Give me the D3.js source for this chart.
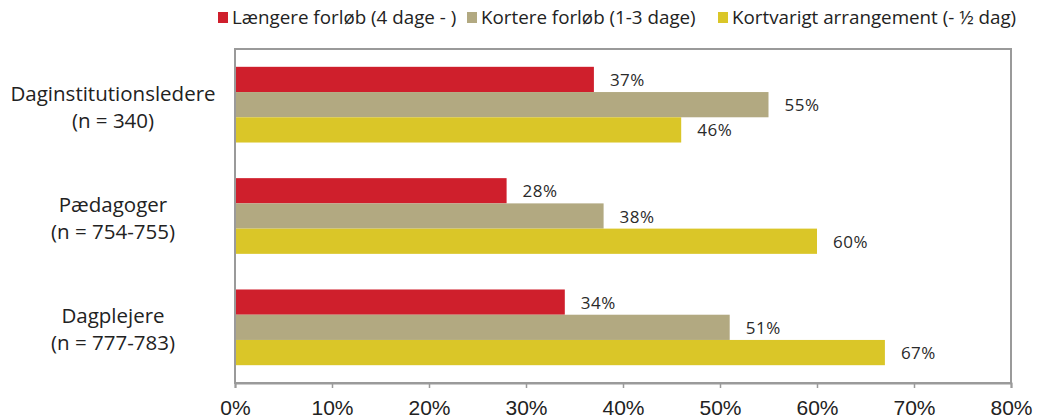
<!DOCTYPE html>
<html><head><meta charset="utf-8">
<script src="https://cdn.jsdelivr.net/npm/d3@7"></script>
<style>body{margin:0;background:#fff}svg{display:block}</style>
</head><body><svg id="c" width="1037" height="419"></svg>
<script>
const categories = ["Daginstitutionsledere|(n = 340)", "Pædagoger|(n = 754-755)", "Dagplejere|(n = 777-783)"];
const seriesNames = ["Længere forløb (4 dage - )", "Kortere forløb (1-3 dage)", "Kortvarigt arrangement (- ½ dag)"];
const longer = [37, 28, 34];
const shorter = [55, 38, 51];
const brief = [46, 60, 67];
const tickValues = [0, 10, 20, 30, 40, 50, 60, 70, 80];
const colors = ["#CF1F2C", "#B2A981", "#DAC628"];

const series = [longer, shorter, brief];
const svg = d3.select("#c");
const m = {l: 235, r: 1011, t: 49, b: 383};
const x = d3.scaleLinear().domain([0, 80]).range([m.l, m.r]);
const y = d3.scaleBand().domain(categories).range([m.t, m.b]).paddingInner(0.32).paddingOuter(0.16);
const ys = d3.scaleBand().domain([0,1,2]).range([0, y.bandwidth()]);

// frame
svg.append("rect").attr("x", m.l).attr("y", m.t).attr("width", m.r - m.l).attr("height", m.b - m.t)
  .attr("fill", "none").attr("stroke", "#9a9a9a").attr("stroke-width", 2);

// bars
categories.forEach((c, i) => {
  series.forEach((s, j) => {
    svg.append("rect").attr("x", x(0)).attr("y", y(c) + ys(j))
      .attr("width", x(s[i]) - x(0)).attr("height", ys.bandwidth())
      .attr("fill", colors[j]);
    svg.append("text").attr("x", x(s[i]) + 16).attr("y", y(c) + ys(j) + ys.bandwidth()/2 + 6.5)
      .attr("font-family", "Open Sans, sans-serif").attr("font-size", 17).attr("fill", "#2a2a2a")
      .attr("letter-spacing", 0.5)
      .text(s[i] + "%");
  });
  const parts = c.split("|");
  const t = svg.append("text").attr("text-anchor", "middle").attr("font-family", "Open Sans, sans-serif")
    .attr("font-size", 20.5).attr("fill", "#222");
  const cy = y(c) + y.bandwidth()/2;
  t.append("tspan").attr("x", 113).attr("y", cy - 4).text(parts[0]);
  t.append("tspan").attr("x", 113).attr("y", cy + 23).text(parts[1]);
});

// left axis line redraw over bars
svg.append("line").attr("x1", m.l).attr("x2", m.l).attr("y1", m.t).attr("y2", m.b).attr("stroke", "#9a9a9a").attr("stroke-width", 2);

// x axis
const ax = svg.append("g").attr("transform", `translate(0,${m.b})`)
  .call(d3.axisBottom(x).tickValues(tickValues).tickFormat(d => d + "%").tickSize(5).tickPadding(12));
ax.select(".domain").attr("stroke", "#9a9a9a").attr("stroke-width", 2);
ax.selectAll(".tick line").attr("stroke", "#9a9a9a").attr("stroke-width", 1.5);
ax.selectAll(".tick text").attr("font-family", "Liberation Sans Narrow, Arial Narrow, sans-serif")
  .attr("font-size", 21).attr("fill", "#222");

// legend
const lx = [218, 467, 718];
seriesNames.forEach((n, j) => {
  svg.append("rect").attr("x", lx[j]).attr("y", 12).attr("width", 10).attr("height", 11).attr("fill", colors[j]);
  svg.append("text").attr("x", lx[j] + 14).attr("y", 24).attr("font-family", "Open Sans, sans-serif")
    .attr("font-size", 18.8).attr("fill", "#222").text(n);
});
</script></body></html>
